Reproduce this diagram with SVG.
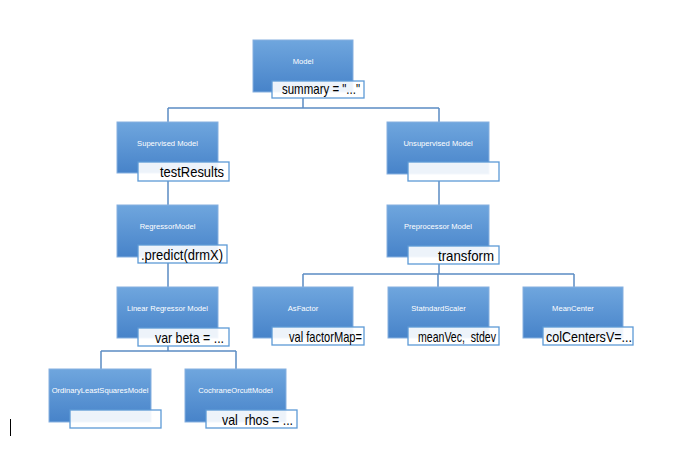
<svg xmlns="http://www.w3.org/2000/svg" width="685" height="458" viewBox="0 0 685 458">
<defs>
<linearGradient id="g" x1="0" y1="0" x2="0" y2="1">
<stop offset="0" stop-color="#6fa6de"/>
<stop offset="1" stop-color="#4783c9"/>
</linearGradient>
</defs>
<style>
.box{fill:url(#g);stroke:#86b0e0;stroke-width:1}
.lbl{fill:#ffffff;fill-opacity:0.9;stroke:#5d9ad6;stroke-width:1.3}
.nt{font-family:"Liberation Sans",Arial,sans-serif;font-size:7.6px;fill:#ffffff;text-anchor:middle}
.lt{font-family:"Liberation Sans",Arial,sans-serif;font-size:15px;fill:#000000;white-space:pre}
.c{stroke:#5b8cc4;stroke-width:1.5;fill:none}
</style>
<rect width="685" height="458" fill="#ffffff"/>
<g id="connectors">
<path class="c" d="M303 98V108M168 108H439M168 108V122M439 108V122"/>
<path class="c" d="M168 181V205M168 263V287M168 346V351M101 351H236M101 351V369M236 351V369"/>
<path class="c" d="M439 181V205M439 264V274M303 274H574M303 274V287M438 274V287M574 274V287"/>
</g>
<g id="model"><rect class="box" x="253" y="40" width="100" height="52"/><text class="nt" x="303" y="64">Model</text><rect class="lbl" x="272" y="81" width="92" height="17"/><text class="lt" x="282" y="94" textLength="78" lengthAdjust="spacingAndGlyphs">summary = "..."</text></g>
<g id="supervised"><rect class="box" x="117" y="122" width="101" height="51"/><text class="nt" x="167.5" y="146">Supervised Model</text><rect class="lbl" x="138" y="162" width="91" height="19"/><text class="lt" x="160" y="177" textLength="64" lengthAdjust="spacingAndGlyphs">testResults</text></g>
<g id="unsupervised"><rect class="box" x="387" y="122" width="102" height="52"/><text class="nt" x="438" y="146">Unsupervised Model</text><rect class="lbl" x="408" y="162" width="91" height="19"/></g>
<g id="regressor"><rect class="box" x="117" y="205" width="101" height="52"/><text class="nt" x="167.5" y="229">RegressorModel</text><rect class="lbl" x="138" y="245" width="89" height="18"/><text class="lt" x="141" y="259.5" textLength="82" lengthAdjust="spacingAndGlyphs">.predict(drmX)</text></g>
<g id="preprocessor"><rect class="box" x="387" y="205" width="102" height="52"/><text class="nt" x="438" y="229">Preprocessor Model</text><rect class="lbl" x="408" y="246" width="91" height="18"/><text class="lt" x="438" y="260.5" textLength="56" lengthAdjust="spacingAndGlyphs">transform</text></g>
<g id="linear"><rect class="box" x="117" y="287" width="101" height="51"/><text class="nt" x="167.5" y="311">Linear Regressor Model</text><rect class="lbl" x="138" y="328" width="91" height="18"/><text class="lt" x="155" y="342.5" textLength="69" lengthAdjust="spacingAndGlyphs">var beta = ...</text></g>
<g id="asfactor"><rect class="box" x="253" y="287" width="100" height="51"/><text class="nt" x="303" y="311">AsFactor</text><rect class="lbl" x="272" y="327" width="92" height="18"/><text class="lt" x="289" y="341.5" textLength="73" lengthAdjust="spacingAndGlyphs">val factorMap=</text></g>
<g id="scaler"><rect class="box" x="388" y="287" width="101" height="51"/><text class="nt" x="438.5" y="311">StatndardScaler</text><rect class="lbl" x="408" y="327" width="91" height="18"/><text class="lt" x="418" y="341.5" textLength="78" lengthAdjust="spacingAndGlyphs">meanVec,  stdev</text></g>
<g id="meancenter"><rect class="box" x="523" y="287" width="100" height="51"/><text class="nt" x="573" y="311">MeanCenter</text><rect class="lbl" x="543" y="327" width="90" height="18"/><text class="lt" x="546" y="341.5" textLength="86" lengthAdjust="spacingAndGlyphs">colCentersV=...</text></g>
<g id="ols"><rect class="box" x="49" y="369" width="102" height="53"/><text class="nt" x="100" y="393">OrdinaryLeastSquaresModel</text><rect class="lbl" x="70" y="410" width="91" height="18"/></g>
<g id="cochrane"><rect class="box" x="185" y="369" width="101" height="53"/><text class="nt" x="235.5" y="393">CochraneOrcuttModel</text><rect class="lbl" x="206" y="410" width="91" height="18"/><text class="lt" x="222" y="424.5" textLength="71" lengthAdjust="spacingAndGlyphs">val  rhos = ...</text></g>
<line x1="10.5" y1="419" x2="10.5" y2="436" stroke="#000000" stroke-width="1"/>
</svg>
